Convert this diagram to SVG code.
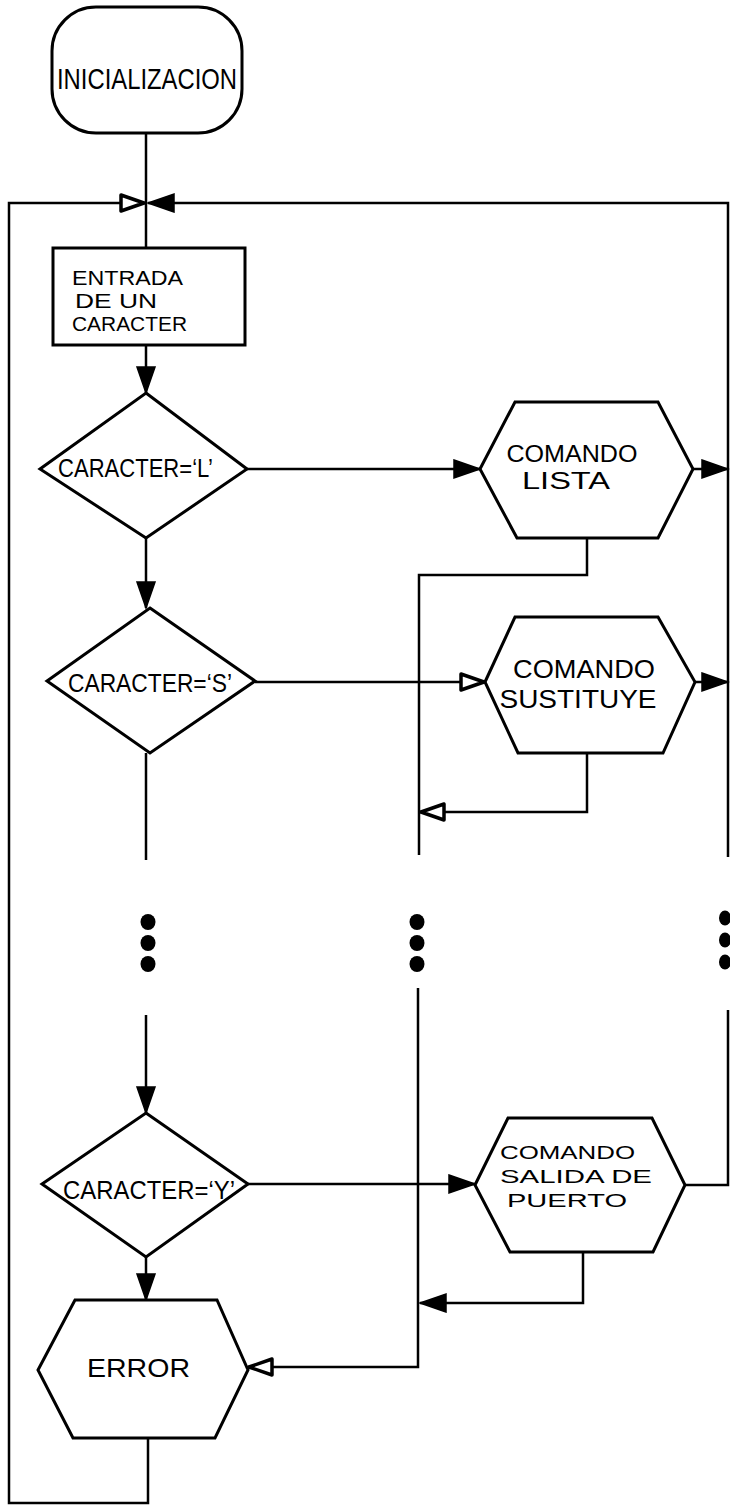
<svg xmlns="http://www.w3.org/2000/svg" width="730" height="1510" viewBox="0 0 730 1510">
  <style>
    .shape { fill: #ffffff; stroke: #000000; stroke-width: 3; stroke-linejoin: miter; }
    .wire { fill: none; stroke: #000000; stroke-width: 2.5; stroke-linejoin: miter; }
    .lbl { font-family: "Liberation Sans Narrow", "Liberation Sans", Arial, sans-serif; fill: #000000; }
    .dot { fill: #000000; }
  </style>
  <defs>
    <marker id="solid" markerUnits="userSpaceOnUse" markerWidth="30" markerHeight="22" viewBox="0 0 30 22" refX="27" refY="11" orient="auto">
      <path d="M1,2 L27,11 L1,20 Z" fill="#000000" stroke="#000000" stroke-width="1.5"/>
    </marker>
    <marker id="hollow" markerUnits="userSpaceOnUse" markerWidth="30" markerHeight="22" viewBox="0 0 30 22" refX="27" refY="11" orient="auto">
      <path d="M3,3 L26,11 L3,19 Z" fill="#ffffff" stroke="#000000" stroke-width="3.5" stroke-linejoin="round"/>
    </marker>
  </defs>

  <!-- connectors -->
  <g id="connectors">
    <path class="wire" d="M146,133 V248"/>
    <path class="wire" d="M148,1438 V1503 H9 V203 H145" marker-end="url(#hollow)"/>
    <path class="wire" d="M728,857 V203 H148" marker-end="url(#solid)"/>
    <path class="wire" d="M685,1185 H728 V1010"/>
    <path class="wire" d="M146,345 V393" marker-end="url(#solid)"/>
    <path class="wire" d="M146,538 V608" marker-end="url(#solid)"/>
    <path class="wire" d="M146,753 V860"/>
    <path class="wire" d="M146,1015 V1113" marker-end="url(#solid)"/>
    <path class="wire" d="M146,1257 V1300" marker-end="url(#solid)"/>
    <path class="wire" d="M247,469 H480" marker-end="url(#solid)"/>
    <path class="wire" d="M693,469 H728" marker-end="url(#solid)"/>
    <path class="wire" d="M255,682 H485" marker-end="url(#hollow)"/>
    <path class="wire" d="M695,682 H728" marker-end="url(#solid)"/>
    <path class="wire" d="M587,538 V575 H419 V855"/>
    <path class="wire" d="M587,753 V812 H420" marker-end="url(#hollow)"/>
    <path class="wire" d="M418,988 V1367 H248" marker-end="url(#hollow)"/>
    <path class="wire" d="M248,1184 H475" marker-end="url(#solid)"/>
    <path class="wire" d="M583,1252 V1303 H420" marker-end="url(#solid)"/>
    <!-- continuation dots -->
    <ellipse class="dot" cx="148" cy="922" rx="7.5" ry="8"/>
    <ellipse class="dot" cx="148" cy="943" rx="7.5" ry="8"/>
    <ellipse class="dot" cx="148" cy="964" rx="7.5" ry="8"/>
    <ellipse class="dot" cx="417" cy="922" rx="7.5" ry="8"/>
    <ellipse class="dot" cx="417" cy="943" rx="7.5" ry="8"/>
    <ellipse class="dot" cx="417" cy="964" rx="7.5" ry="8"/>
    <ellipse class="dot" cx="725" cy="918" rx="6" ry="7.5"/>
    <ellipse class="dot" cx="725" cy="940" rx="6" ry="7.5"/>
    <ellipse class="dot" cx="725" cy="962" rx="6" ry="7.5"/>
  </g>

  <g id="inicializacion">
    <rect class="shape" x="52" y="7" width="190" height="126" rx="44" ry="44"/>
    <text class="lbl" x="147" y="89" text-anchor="middle" font-size="29" textLength="180" lengthAdjust="spacingAndGlyphs">INICIALIZACION</text>
  </g>

  <g id="entrada">
    <rect class="shape" x="53" y="248" width="192" height="97"/>
    <text class="lbl" x="72" y="285" font-size="20" textLength="111" lengthAdjust="spacingAndGlyphs">ENTRADA</text>
    <text class="lbl" x="75" y="308" font-size="20" textLength="82" lengthAdjust="spacingAndGlyphs">DE UN</text>
    <text class="lbl" x="72" y="331" font-size="20" textLength="115" lengthAdjust="spacingAndGlyphs">CARACTER</text>
  </g>

  <g id="decision-l">
    <polygon class="shape" points="146,393 247,469 146,538 40,469"/>
    <text class="lbl" x="58" y="477" font-size="26" textLength="155" lengthAdjust="spacingAndGlyphs">CARACTER=‘L’</text>
  </g>

  <g id="comando-lista">
    <polygon class="shape" points="480,469 515,402 658,402 693,469 658,538 517,538"/>
    <text class="lbl" x="572" y="462" text-anchor="middle" font-size="24" textLength="131" lengthAdjust="spacingAndGlyphs">COMANDO</text>
    <text class="lbl" x="566" y="489" text-anchor="middle" font-size="24" textLength="88" lengthAdjust="spacingAndGlyphs">LISTA</text>
  </g>

  <g id="decision-s">
    <polygon class="shape" points="150,608 255,681 150,753 47,681"/>
    <text class="lbl" x="68" y="692" font-size="26" textLength="164" lengthAdjust="spacingAndGlyphs">CARACTER=‘S’</text>
  </g>

  <g id="comando-sustituye">
    <polygon class="shape" points="485,682 515,617 658,617 695,682 663,753 518,753"/>
    <text class="lbl" x="584" y="678" text-anchor="middle" font-size="25" textLength="142" lengthAdjust="spacingAndGlyphs">COMANDO</text>
    <text class="lbl" x="578" y="708" text-anchor="middle" font-size="25" textLength="157" lengthAdjust="spacingAndGlyphs">SUSTITUYE</text>
  </g>

  <g id="decision-y">
    <polygon class="shape" points="146,1113 248,1184 146,1257 42,1184"/>
    <text class="lbl" x="63" y="1199" font-size="26" textLength="172" lengthAdjust="spacingAndGlyphs">CARACTER=‘Y’</text>
  </g>

  <g id="comando-salida">
    <polygon class="shape" points="475,1185 508,1118 652,1118 685,1185 653,1252 510,1252"/>
    <text class="lbl" x="500" y="1159" font-size="19" textLength="135" lengthAdjust="spacingAndGlyphs">COMANDO</text>
    <text class="lbl" x="500" y="1183" font-size="19" textLength="152" lengthAdjust="spacingAndGlyphs">SALIDA DE</text>
    <text class="lbl" x="507" y="1207" font-size="19" textLength="120" lengthAdjust="spacingAndGlyphs">PUERTO</text>
  </g>

  <g id="error">
    <polygon class="shape" points="38,1370 75,1300 217,1300 248,1370 215,1438 73,1438"/>
    <text class="lbl" x="87" y="1377" font-size="25" textLength="103" lengthAdjust="spacingAndGlyphs">ERROR</text>
  </g>
</svg>
